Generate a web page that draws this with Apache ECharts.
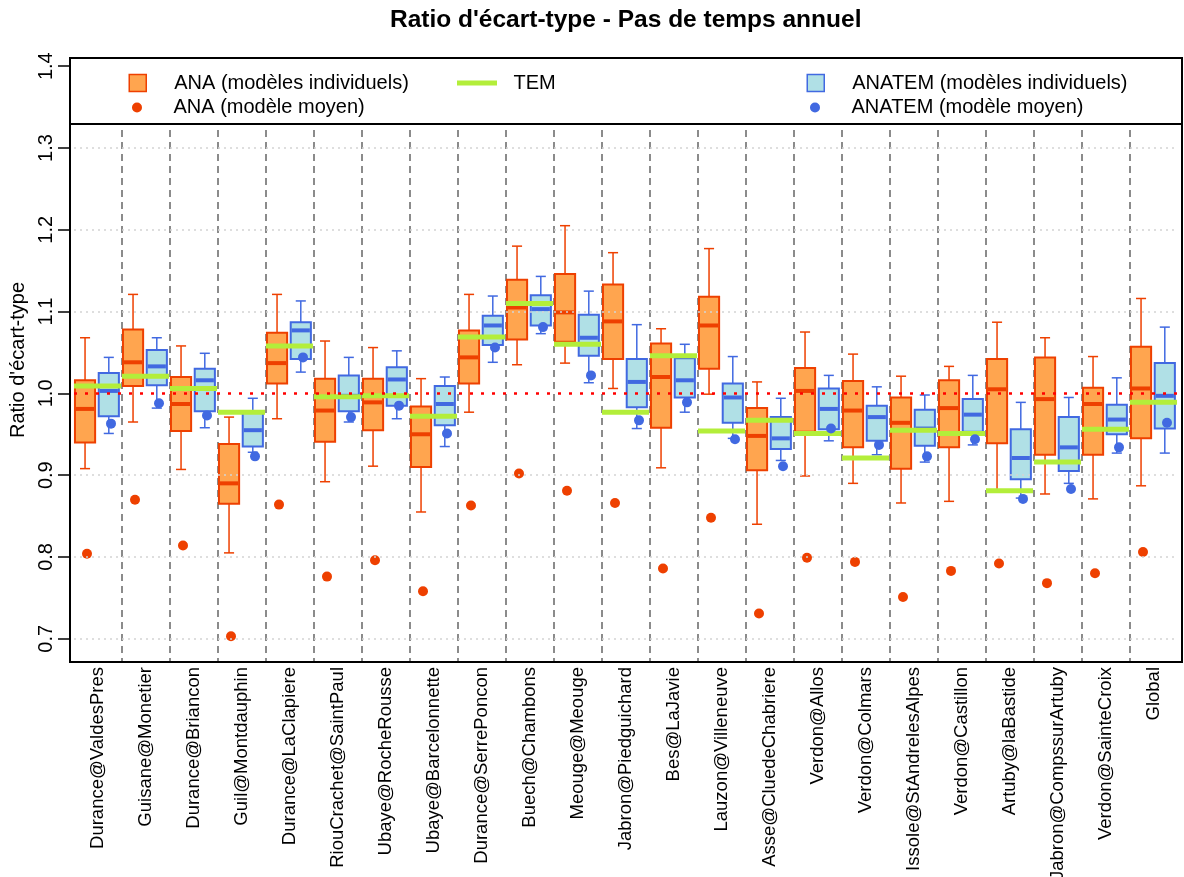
<!DOCTYPE html>
<html>
<head>
<meta charset="utf-8">
<script src="https://cdn.jsdelivr.net/npm/echarts@6/dist/echarts.min.js"></script>
<style>html,body{margin:0;padding:0;background:#fff}#c{width:1184px;height:877px}</style>
</head>
<body>
<div id="c"></div>
<script>
const categories = ["Durance@ValdesPres","Guisane@Monetier","Durance@Briancon","Guil@Montdauphin","Durance@LaClapiere","RiouCrachet@SaintPaul","Ubaye@RocheRousse","Ubaye@Barcelonnette","Durance@SerrePoncon","Buech@Chambons","Meouge@Meouge","Jabron@Piedguichard","Bes@LaJavie","Lauzon@Villeneuve","Asse@CluedeChabriere","Verdon@Allos","Verdon@Colmars","Issole@StAndrelesAlpes","Verdon@Castillon","Artuby@laBastide","Jabron@CompssurArtuby","Verdon@SainteCroix","Global"];

// ANA (modèles individuels) box statistics
const anaLow  = [0.908,0.965,0.907,0.805,0.969,0.892,0.911,0.855,0.977,1.035,1.037,1.006,0.909,0.999,0.840,0.899,0.890,0.866,0.868,0.882,0.877,0.871,0.887];
const anaQ1   = [0.940,1.009,0.954,0.865,1.012,0.941,0.955,0.910,1.012,1.066,1.063,1.042,0.958,1.030,0.906,0.953,0.934,0.908,0.934,0.939,0.925,0.925,0.945];
const anaMed  = [0.981,1.038,0.987,0.890,1.037,0.979,0.989,0.950,1.044,1.105,1.099,1.088,1.020,1.083,0.948,1.003,0.979,0.964,0.982,1.005,0.993,0.987,1.006];
const anaQ3   = [1.016,1.078,1.020,0.938,1.074,1.018,1.018,0.984,1.077,1.139,1.146,1.133,1.061,1.118,0.982,1.031,1.015,0.995,1.016,1.042,1.044,1.007,1.057];
const anaHigh = [1.068,1.121,1.058,0.971,1.121,1.064,1.056,1.018,1.121,1.180,1.205,1.172,1.079,1.177,1.014,1.075,1.048,1.021,1.033,1.087,1.068,1.045,1.116];

// ANATEM (modèles individuels) box statistics
const atLow  = [0.951,0.982,0.958,0.928,1.026,0.965,0.969,0.935,1.038,1.073,1.013,0.957,0.977,0.945,0.918,0.942,0.925,0.916,0.937,0.872,0.890,0.927,0.927];
const atQ1   = [0.972,1.010,0.978,0.935,1.042,0.978,0.985,0.961,1.059,1.083,1.046,0.983,0.995,0.964,0.932,0.956,0.942,0.936,0.953,0.895,0.905,0.950,0.957];
const atMed  = [1.003,1.033,1.016,0.955,1.077,0.997,1.017,0.987,1.083,1.103,1.068,1.014,1.016,0.995,0.945,0.981,0.971,0.957,0.974,0.921,0.934,0.968,0.997];
const atQ3   = [1.025,1.053,1.030,0.976,1.087,1.022,1.032,1.009,1.095,1.120,1.096,1.042,1.043,1.012,0.971,1.006,0.985,0.980,0.993,0.956,0.971,0.986,1.037];
const atHigh = [1.044,1.068,1.049,0.994,1.113,1.044,1.052,1.020,1.119,1.143,1.125,1.084,1.060,1.045,0.994,1.022,1.008,0.998,1.022,0.989,0.995,1.019,1.081];

// TEM
const tem = [1.009,1.021,1.006,0.977,1.058,0.996,0.997,0.972,1.069,1.110,1.060,0.977,1.046,0.954,0.967,0.951,0.921,0.955,0.951,0.881,0.916,0.956,0.989];

// modèle moyen
const anaMean = [0.804,0.870,0.814,0.703,0.864,0.776,0.796,0.758,0.863,0.902,0.881,0.866,0.786,0.848,0.731,0.799,0.794,0.751,0.783,0.792,0.768,0.780,0.806];
const atMean  = [0.963,0.988,0.973,0.923,1.044,0.971,0.985,0.951,1.056,1.081,1.022,0.967,0.989,0.944,0.911,0.957,0.937,0.923,0.944,0.871,0.883,0.934,0.964];

const yTicks = [0.7,0.8,0.9,1.0,1.1,1.2,1.3,1.4];
const refValue = 1.0;

const FONT = "'Liberation Sans', Arial, Helvetica, sans-serif";
const C_ANA_FILL = '#FFA54F', C_ANA = '#EE4000';
const C_AT_FILL = '#B0E0E6', C_AT = '#4169E1';
const C_TEM = '#B3EE3A';

function makeBoxRender(offset, fill, stroke) {
  return function (params, api) {
    const c = api.value(0);
    const w = api.size([1, 0])[0];
    const x0 = api.coord([c, 1])[0] + offset * w;
    const y = i => api.coord([c, api.value(i)])[1];
    const yLo = y(1), yQ1 = y(2), yMed = y(3), yQ3 = y(4), yHi = y(5);
    const bw = 0.42 * w, cw = 0.21 * w;
    const ls = { stroke: stroke, lineWidth: 1.5 };
    return { type: 'group', children: [
      { type: 'line', shape: { x1: x0, y1: yQ3, x2: x0, y2: yHi }, style: ls },
      { type: 'line', shape: { x1: x0 - cw / 2, y1: yHi, x2: x0 + cw / 2, y2: yHi }, style: ls },
      { type: 'line', shape: { x1: x0, y1: yQ1, x2: x0, y2: yLo }, style: ls },
      { type: 'line', shape: { x1: x0 - cw / 2, y1: yLo, x2: x0 + cw / 2, y2: yLo }, style: ls },
      { type: 'rect', shape: { x: x0 - bw / 2, y: yQ3, width: bw, height: yQ1 - yQ3 }, style: { fill: fill, stroke: stroke, lineWidth: 2 } },
      { type: 'line', shape: { x1: x0 - bw / 2 + 1, y1: yMed, x2: x0 + bw / 2 - 1, y2: yMed }, style: { stroke: stroke, lineWidth: 4 } }
    ]};
  };
}

function temRender(params, api) {
  const c = api.value(0);
  const w = api.size([1, 0])[0];
  const p = api.coord([c, api.value(1)]);
  return { type: 'line', shape: { x1: p[0] - 0.5 * w, y1: p[1], x2: p[0] + 0.48 * w, y2: p[1] },
           style: { stroke: C_TEM, lineWidth: 5 } };
}

// legend item: icon visible box starts at "left"; icon centred in a 63px slot, text 5px after the slot
function mkLegend(name, cx, cy, iconW, iconH, icon, itemStyle) {
  return {
    data: [{ name: name, icon: icon, itemStyle: itemStyle }],
    left: cx - iconW / 2, top: cy - 10, padding: 0,
    itemWidth: 63, itemHeight: iconH, selectedMode: false, z: 60,
    textStyle: { fontSize: 20, fontFamily: FONT, color: '#000', lineHeight: 20 }
  };
}

const SQ = 'path://M0,0H17V17H0Z';
const TEMICON = 'path://M0,0H40V5H0Z';

const chart = echarts.init(document.getElementById('c'), null, { renderer: 'canvas' });
chart.setOption({
  animation: false,
  backgroundColor: '#fff',
  title: {
    text: "Ratio d'écart-type - Pas de temps annuel",
    left: 390, top: 8, padding: 0,
    textStyle: { fontSize: 24.5, fontWeight: 'bold', fontFamily: FONT, color: '#000' }
  },
  legend: [
    mkLegend('ANA (modèles individuels)', 137, 83, 17, 17, SQ, { color: C_ANA_FILL, borderColor: C_ANA, borderWidth: 1.5 }),
    mkLegend('ANA (modèle moyen)', 137, 107.5, 10, 10, 'circle', { color: C_ANA, borderWidth: 0 }),
    mkLegend('TEM', 477, 83, 40, 5, TEMICON, { color: C_TEM, borderWidth: 0 }),
    mkLegend('ANATEM (modèles individuels)', 815, 83, 17, 17, SQ, { color: C_AT_FILL, borderColor: C_AT, borderWidth: 1.5 }),
    mkLegend('ANATEM (modèle moyen)', 815, 107.5, 10, 10, 'circle', { color: C_AT, borderWidth: 0 })
  ],
  grid: { left: 74, right: 6, top: 58, bottom: 215, containLabel: false, outerBoundsMode: 'none' },
  xAxis: {
    type: 'category', data: categories, boundaryGap: true,
    axisLine: { show: false }, axisTick: { show: false },
    axisLabel: { rotate: 90, interval: 0, margin: 5, fontSize: 18.5, fontFamily: FONT, color: '#000' },
    splitLine: { show: true, interval: 0, showMinLine: false, showMaxLine: false,
                 lineStyle: { type: [7, 5], color: '#666', width: 1.5 } }
  },
  yAxis: {
    type: 'value', min: 0.6716, max: 1.41, offset: 4,
    name: "Ratio d'écart-type", nameLocation: 'middle', nameRotate: 90, nameGap: 40,
    nameTextStyle: { fontSize: 20, fontFamily: FONT, color: '#000' },
    axisLine: { show: false },
    axisTick: { show: true, customValues: yTicks, length: 12, lineStyle: { color: '#000', width: 1.5 } },
    axisLabel: { customValues: yTicks, rotate: 90, margin: 14, fontSize: 20, fontFamily: FONT, color: '#000',
                 formatter: v => Number(v).toFixed(1) },
    splitLine: { show: false }
  },
  series: [
    { name: 'ANA (modèles individuels)', type: 'custom', z: 2,
      itemStyle: { color: C_ANA_FILL },
      renderItem: makeBoxRender(-0.27, C_ANA_FILL, C_ANA),
      encode: { x: 0, y: [1, 2, 3, 4, 5] },
      data: categories.map((_, i) => [i, anaLow[i], anaQ1[i], anaMed[i], anaQ3[i], anaHigh[i]]) },
    { name: 'ANATEM (modèles individuels)', type: 'custom', z: 2,
      itemStyle: { color: C_AT_FILL },
      renderItem: makeBoxRender(0.225, C_AT_FILL, C_AT),
      encode: { x: 0, y: [1, 2, 3, 4, 5] },
      data: categories.map((_, i) => [i, atLow[i], atQ1[i], atMed[i], atQ3[i], atHigh[i]]) },
    { name: 'TEM', type: 'custom', z: 3,
      itemStyle: { color: C_TEM },
      renderItem: temRender, encode: { x: 0, y: 1 },
      data: categories.map((_, i) => [i, tem[i]]) },
    { name: 'ANA (modèle moyen)', type: 'scatter', z: 4,
      symbol: 'circle', symbolSize: 10, symbolOffset: [-11, 0],
      itemStyle: { color: C_ANA, opacity: 1 },
      data: categories.map((_, i) => [i, anaMean[i]]) },
    { name: 'ANATEM (modèle moyen)', type: 'scatter', z: 4,
      symbol: 'circle', symbolSize: 10, symbolOffset: [13, 0],
      itemStyle: { color: C_AT, opacity: 1 },
      data: categories.map((_, i) => [i, atMean[i]]),
      markLine: {
        silent: true, symbol: ['none', 'none'], animation: false,
        label: { show: false },
        data: yTicks.filter(v => v !== refValue).map(v => ({ yAxis: v, lineStyle: { color: '#D3D3D3', type: [2, 4], width: 1.5 } }))
          .concat([{ yAxis: refValue, lineStyle: { color: '#FF0000', type: [3, 8], width: 2.5 } }])
      } }
  ],
  graphic: [
    { type: 'rect', z: 50, silent: true, shape: { x: 70, y: 58, width: 1112, height: 66 },
      style: { fill: '#fff', stroke: '#000', lineWidth: 2 } },
    { type: 'rect', z: 50, silent: true, shape: { x: 70, y: 58, width: 1112, height: 604 },
      style: { fill: null, stroke: '#000', lineWidth: 2 } }
  ]
});
</script>
</body>
</html>
